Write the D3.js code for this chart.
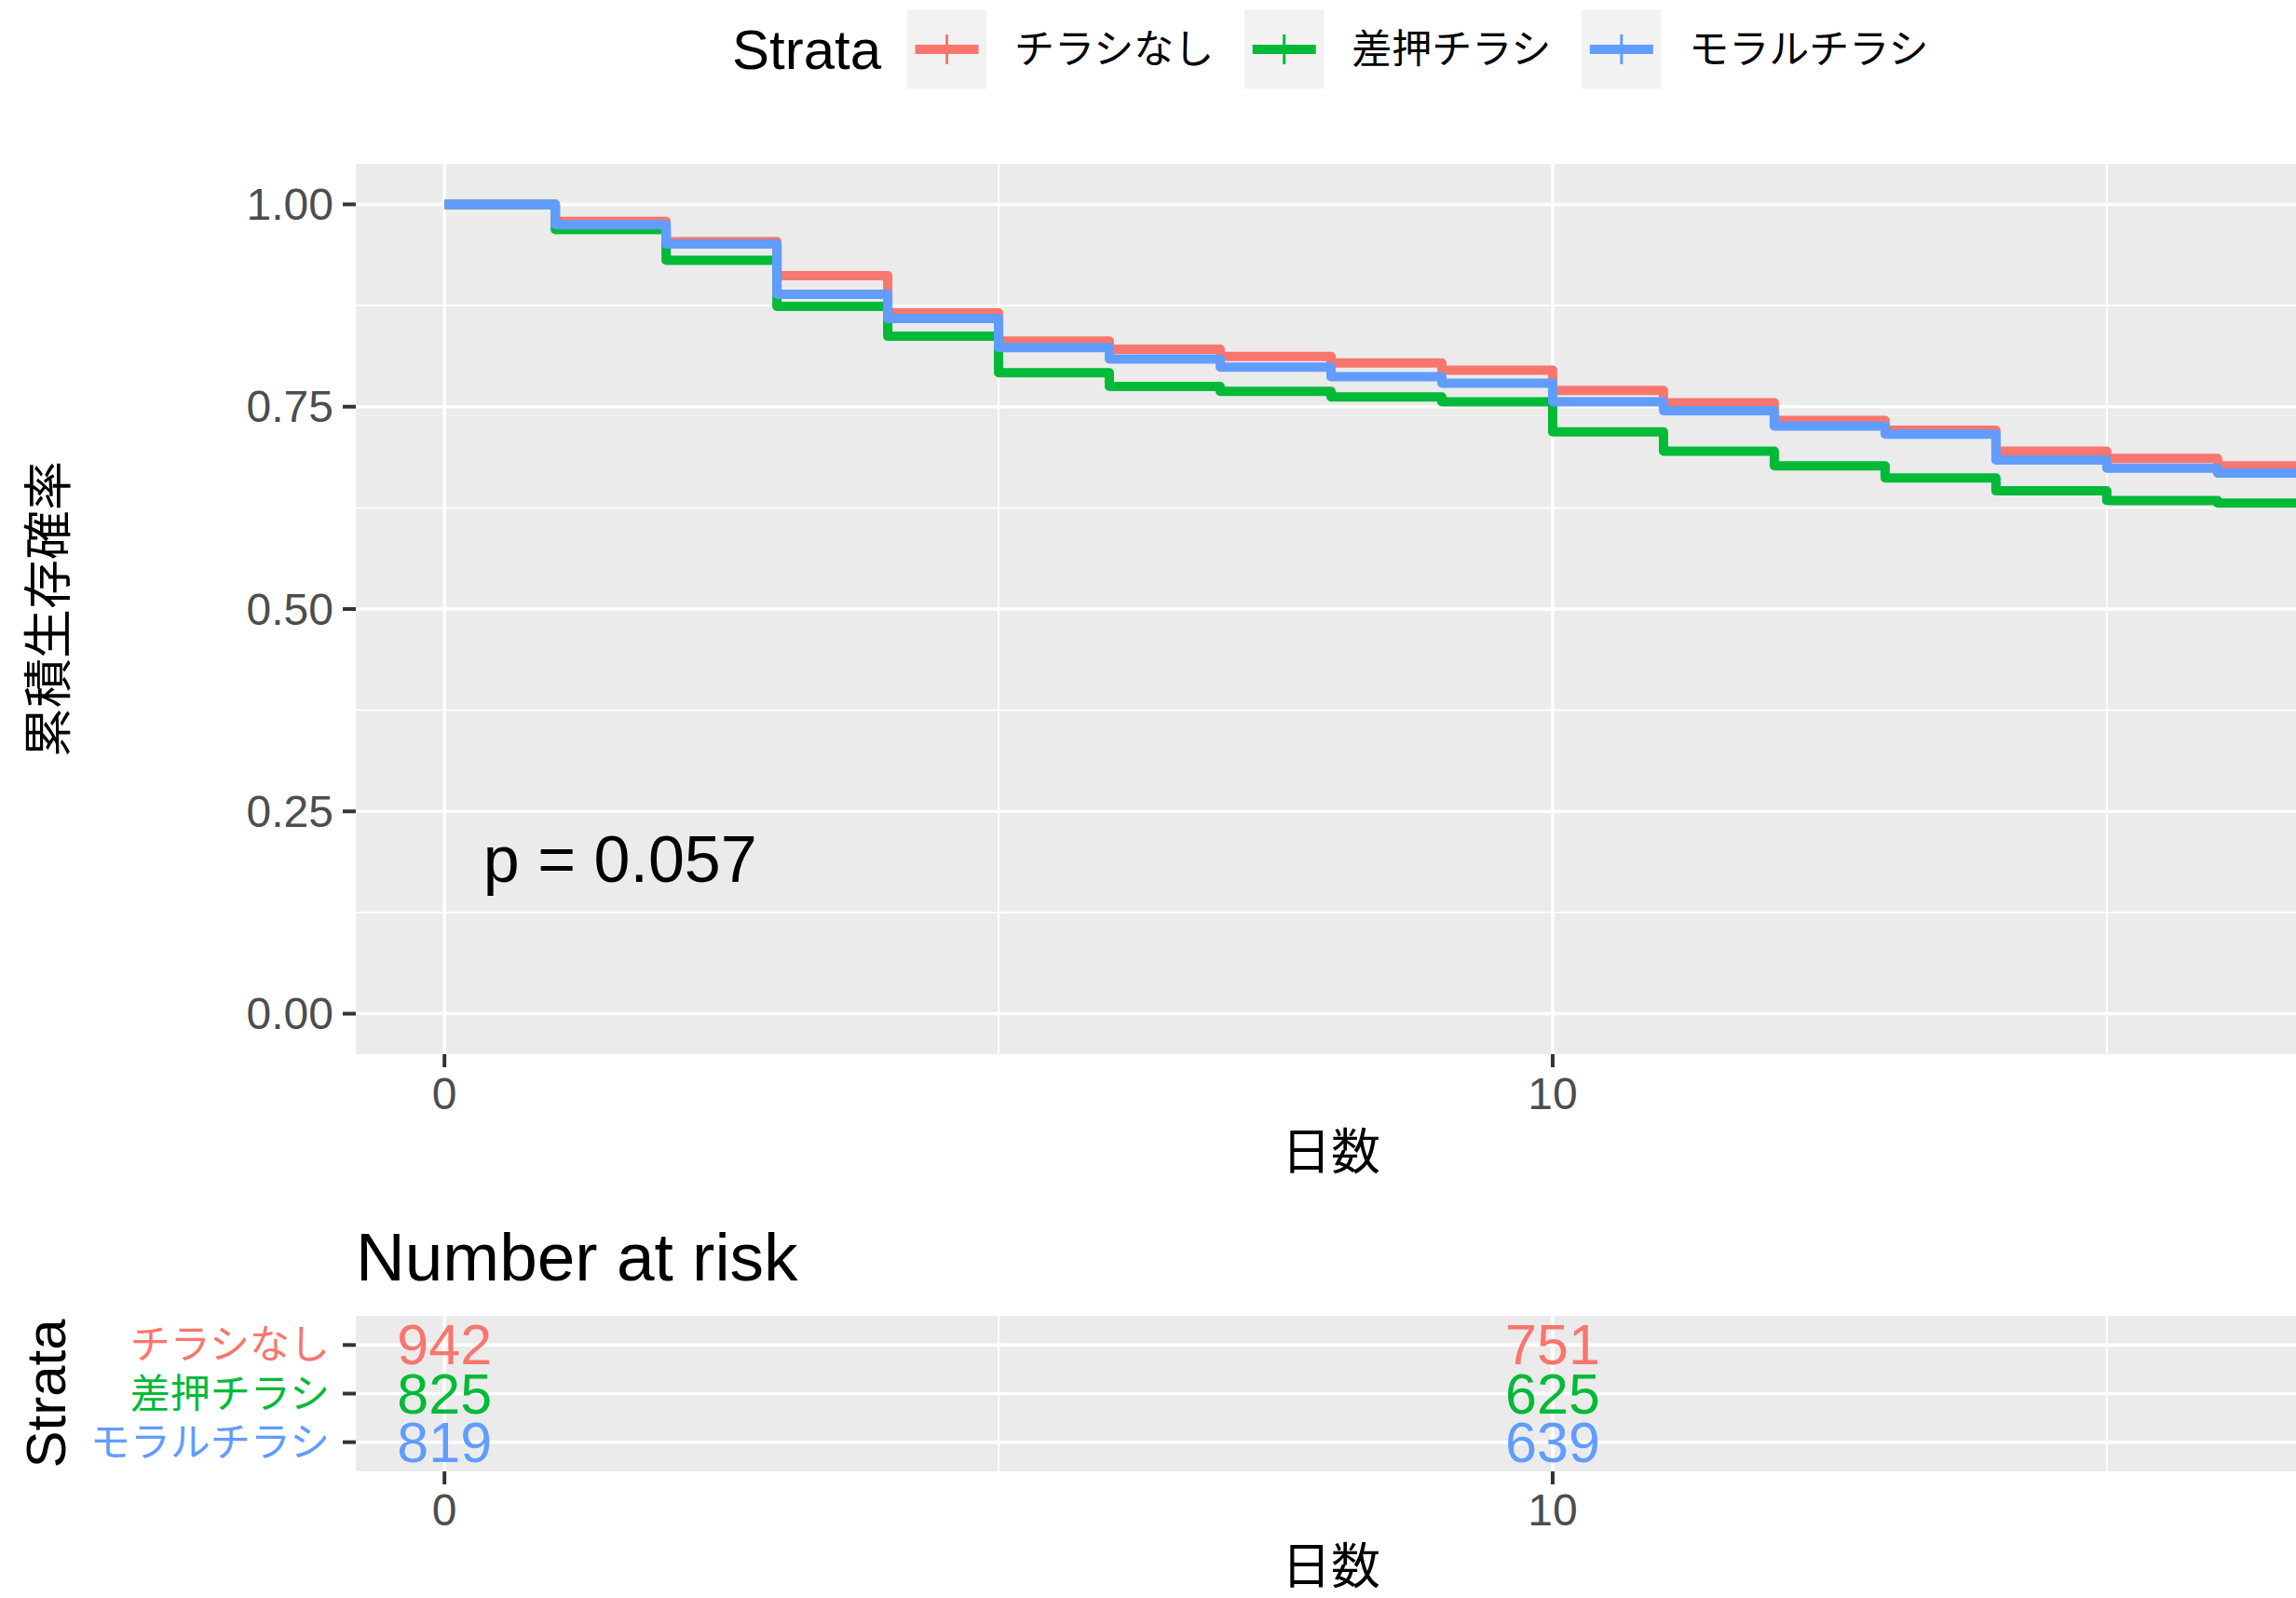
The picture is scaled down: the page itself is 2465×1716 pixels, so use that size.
<!DOCTYPE html>
<html>
<head>
<meta charset="utf-8">
<script src="https://cdn.jsdelivr.net/npm/d3@7/dist/d3.min.js"></script>
<style>
  html, body { margin: 0; padding: 0; background: #ffffff; overflow: hidden; }
  svg text { font-family: "Liberation Sans", "Noto Sans CJK JP", sans-serif; }
</style>
</head>
<body>
<svg id="chart" width="2465" height="1716"></svg>
<script>
// ---- data -------------------------------------------------------------
const strata = ["チラシなし", "差押チラシ", "モラルチラシ"];
const strataColors = ["#F8766D", "#00BA38", "#619CFF"];

// Kaplan–Meier estimates at each daily step
const days = [0, 1, 2, 3, 4, 5, 6, 7, 8, 9, 10, 11, 12, 13, 14, 15, 16];
const survNone  = [1.000, 0.979, 0.954, 0.912, 0.866, 0.831, 0.821, 0.812, 0.804, 0.795, 0.770, 0.755, 0.733, 0.721, 0.695, 0.686, 0.677];
const survSashi = [1.000, 0.969, 0.931, 0.874, 0.837, 0.792, 0.775, 0.769, 0.762, 0.756, 0.719, 0.695, 0.677, 0.662, 0.646, 0.634, 0.631];
const survMoral = [1.000, 0.975, 0.951, 0.889, 0.859, 0.823, 0.809, 0.799, 0.787, 0.779, 0.756, 0.745, 0.726, 0.716, 0.684, 0.674, 0.668];

// number at risk
const riskTimes = [0, 10];
const riskNone  = [942, 751];
const riskSashi = [825, 625];
const riskMoral = [819, 639];

const yTicks = [0, 0.25, 0.5, 0.75, 1];
const yMinorTicks = [0.125, 0.375, 0.625, 0.875];
const xTicks = [0, 10, 20];
const xMinorTicks = [5, 15];
const pValueText = "p = 0.057";
const pValuePos = [0.35, 0.19];

const survSeries = [survNone, survSashi, survMoral];
const riskSeries = [riskNone, riskSashi, riskMoral];

// ---- layout -----------------------------------------------------------
const W = 2465, H = 1716;
const panel = { left: 382, right: 2476, top: 176, bottom: 1132 };
const riskPanel = { top: 1413, bottom: 1580 };
const bg = "#EBEBEB";
const tickCol = "#333333";
const tickTextCol = "#4D4D4D";
const tickLen = 14;
const curveWidth = 10;

const svg = d3.select("#chart");

const x = d3.scaleLinear().domain([-0.8, 16.8]).range([panel.left, panel.right]);
const y = d3.scaleLinear().domain([-0.05, 1.05]).range([panel.bottom, panel.top]);
const yRisk = d3.scalePoint().domain(strata).range([riskPanel.top, riskPanel.bottom]).padding(0.6);

svg.append("defs").append("clipPath").attr("id", "clipMain")
  .append("rect")
  .attr("x", panel.left).attr("y", panel.top)
  .attr("width", panel.right - panel.left).attr("height", panel.bottom - panel.top);

// ---- legend -----------------------------------------------------------
const legend = svg.append("g");
const legendCy = 53;
const keySize = 85;
let lx = 786;
const lt = legend.append("text")
  .attr("x", lx).attr("y", legendCy)
  .attr("dominant-baseline", "central")
  .attr("font-size", 60).attr("fill", "#000")
  .text("Strata");
lx += lt.node().getComputedTextLength() + 28;
strata.forEach((s, i) => {
  const kx = lx, ky = legendCy - keySize / 2;
  legend.append("rect").attr("x", kx).attr("y", ky)
    .attr("width", keySize).attr("height", keySize).attr("fill", "#F2F2F2");
  legend.append("line")
    .attr("x1", kx + keySize * 0.1).attr("x2", kx + keySize * 0.9)
    .attr("y1", legendCy).attr("y2", legendCy)
    .attr("stroke", strataColors[i]).attr("stroke-width", curveWidth);
  legend.append("line")
    .attr("x1", kx + keySize / 2).attr("x2", kx + keySize / 2)
    .attr("y1", legendCy - 16).attr("y2", legendCy + 16)
    .attr("stroke", strataColors[i]).attr("stroke-width", 3);
  lx += keySize + 30;
  const t = legend.append("text")
    .attr("x", lx).attr("y", legendCy)
    .attr("dominant-baseline", "central")
    .attr("font-size", 43).attr("fill", "#000")
    .text(s);
  lx += t.node().getComputedTextLength() + 33;
});

// ---- survival panel ---------------------------------------------------
const main = svg.append("g");
main.append("rect")
  .attr("x", panel.left).attr("y", panel.top)
  .attr("width", panel.right - panel.left).attr("height", panel.bottom - panel.top)
  .attr("fill", bg);

const grid = main.append("g").attr("clip-path", "url(#clipMain)");
grid.selectAll(".ymin").data(yMinorTicks).join("line")
  .attr("x1", panel.left).attr("x2", panel.right)
  .attr("y1", d => y(d)).attr("y2", d => y(d))
  .attr("stroke", "#fff").attr("stroke-width", 1.8);
grid.selectAll(".xmin").data(xMinorTicks).join("line")
  .attr("x1", d => x(d)).attr("x2", d => x(d))
  .attr("y1", panel.top).attr("y2", panel.bottom)
  .attr("stroke", "#fff").attr("stroke-width", 1.8);
grid.selectAll(".ymaj").data(yTicks).join("line")
  .attr("x1", panel.left).attr("x2", panel.right)
  .attr("y1", d => y(d)).attr("y2", d => y(d))
  .attr("stroke", "#fff").attr("stroke-width", 3.5);
grid.selectAll(".xmaj").data(xTicks).join("line")
  .attr("x1", d => x(d)).attr("x2", d => x(d))
  .attr("y1", panel.top).attr("y2", panel.bottom)
  .attr("stroke", "#fff").attr("stroke-width", 3.5);

// step curves; the last step runs on past the right edge of the window
const step = d3.line()
  .x(d => x(d[0])).y(d => y(d[1]))
  .curve(d3.curveStepAfter);
const curves = main.append("g").attr("clip-path", "url(#clipMain)");
survSeries.forEach((s, i) => {
  const pts = days.map((d, j) => [d, s[j]]);
  pts.push([x.domain()[1], s[s.length - 1]]);
  curves.append("path")
    .attr("d", step(pts))
    .attr("fill", "none")
    .attr("stroke", strataColors[i])
    .attr("stroke-width", curveWidth)
    .attr("stroke-linejoin", "round");
});

main.append("text")
  .attr("x", x(pValuePos[0])).attr("y", y(pValuePos[1]))
  .attr("dominant-baseline", "central")
  .attr("font-size", 70).attr("fill", "#000")
  .text(pValueText);

// y axis
const yAxisG = svg.append("g");
yTicks.forEach(t => {
  yAxisG.append("line")
    .attr("x1", panel.left - tickLen).attr("x2", panel.left)
    .attr("y1", y(t)).attr("y2", y(t))
    .attr("stroke", tickCol).attr("stroke-width", 4);
  yAxisG.append("text")
    .attr("x", panel.left - tickLen - 10).attr("y", y(t))
    .attr("text-anchor", "end").attr("dominant-baseline", "central")
    .attr("font-size", 48).attr("fill", tickTextCol)
    .text(d3.format(".2f")(t));
});
svg.append("text")
  .attr("transform", `translate(52, ${(panel.top + panel.bottom) / 2}) rotate(-90)`)
  .attr("text-anchor", "middle").attr("dominant-baseline", "central")
  .attr("font-size", 53).attr("fill", "#000")
  .text("累積生存確率");

// x axis helper used by both panels
function drawXAxis(bottom, labelY, titleY) {
  const g = svg.append("g");
  xTicks.filter(t => x(t) <= W).forEach(t => {
    g.append("line")
      .attr("x1", x(t)).attr("x2", x(t))
      .attr("y1", bottom).attr("y2", bottom + tickLen)
      .attr("stroke", tickCol).attr("stroke-width", 4);
    g.append("text")
      .attr("x", x(t)).attr("y", labelY)
      .attr("text-anchor", "middle").attr("dominant-baseline", "central")
      .attr("font-size", 48).attr("fill", tickTextCol)
      .text(t);
  });
  g.append("text")
    .attr("x", (panel.left + panel.right) / 2).attr("y", titleY)
    .attr("text-anchor", "middle").attr("dominant-baseline", "central")
    .attr("font-size", 53).attr("fill", "#000")
    .text("日数");
}
drawXAxis(panel.bottom, 1174, 1237);

// ---- risk table -------------------------------------------------------
svg.append("text")
  .attr("x", panel.left).attr("y", 1349)
  .attr("dominant-baseline", "central")
  .attr("font-size", 73).attr("fill", "#000")
  .text("Number at risk");

const risk = svg.append("g");
risk.append("rect")
  .attr("x", panel.left).attr("y", riskPanel.top)
  .attr("width", panel.right - panel.left).attr("height", riskPanel.bottom - riskPanel.top)
  .attr("fill", bg);
risk.selectAll(".rxmin").data(xMinorTicks).join("line")
  .attr("x1", d => x(d)).attr("x2", d => x(d))
  .attr("y1", riskPanel.top).attr("y2", riskPanel.bottom)
  .attr("stroke", "#fff").attr("stroke-width", 1.8);
risk.selectAll(".rxmaj").data(xTicks).join("line")
  .attr("x1", d => x(d)).attr("x2", d => x(d))
  .attr("y1", riskPanel.top).attr("y2", riskPanel.bottom)
  .attr("stroke", "#fff").attr("stroke-width", 3.5);
risk.selectAll(".rymaj").data(strata).join("line")
  .attr("x1", panel.left).attr("x2", panel.right)
  .attr("y1", d => yRisk(d)).attr("y2", d => yRisk(d))
  .attr("stroke", "#fff").attr("stroke-width", 3.5);

riskSeries.forEach((vals, i) => {
  vals.forEach((v, j) => {
    risk.append("text")
      .attr("x", x(riskTimes[j])).attr("y", yRisk(strata[i]))
      .attr("text-anchor", "middle").attr("dominant-baseline", "central")
      .attr("font-size", 61).attr("fill", strataColors[i])
      .text(v);
  });
});

strata.forEach((s, i) => {
  svg.append("line")
    .attr("x1", panel.left - tickLen).attr("x2", panel.left)
    .attr("y1", yRisk(s)).attr("y2", yRisk(s))
    .attr("stroke", tickCol).attr("stroke-width", 4);
  svg.append("text")
    .attr("x", panel.left - tickLen - 14).attr("y", yRisk(s))
    .attr("text-anchor", "end").attr("dominant-baseline", "central")
    .attr("font-size", 43).attr("fill", strataColors[i])
    .text(s);
});
svg.append("text")
  .attr("transform", `translate(49, ${(riskPanel.top + riskPanel.bottom) / 2}) rotate(-90)`)
  .attr("text-anchor", "middle").attr("dominant-baseline", "central")
  .attr("font-size", 60).attr("fill", "#000")
  .text("Strata");

drawXAxis(riskPanel.bottom, 1621, 1682);
</script>
</body>
</html>
